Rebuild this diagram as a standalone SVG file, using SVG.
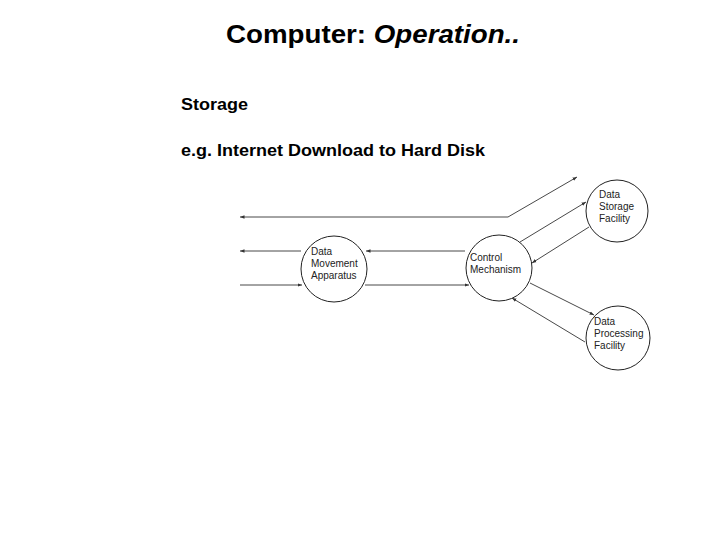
<svg xmlns="http://www.w3.org/2000/svg" width="720" height="540" viewBox="0 0 720 540">
<style>
.t{font-family:"Liberation Sans",Arial,sans-serif;fill:#000;font-weight:bold}
.n{font-family:"Liberation Sans",Arial,sans-serif;font-size:10px;fill:#222}
circle{fill:#fff;stroke:#222;stroke-width:1}
line,polyline{stroke:#333;stroke-width:0.9;fill:none}
</style>
<defs><marker id="a" viewBox="0 0 10 10" refX="10" refY="5" markerWidth="5" markerHeight="5" orient="auto"><path d="M0,1L10,5L0,9z" fill="#333"/></marker></defs>
<rect width="720" height="540" fill="#fff"/>
<text class="t" x="226" y="43" font-size="26" textLength="294" lengthAdjust="spacingAndGlyphs">Computer: <tspan font-style="italic">Operation..</tspan></text>
<text class="t" x="181" y="110" font-size="17" textLength="67" lengthAdjust="spacingAndGlyphs">Storage</text>
<text class="t" x="181" y="156" font-size="17" textLength="304" lengthAdjust="spacingAndGlyphs">e.g. Internet Download to Hard Disk</text>
<g id="connectors">
<line x1="508" y1="217" x2="240" y2="217" marker-end="url(#a)"/>
<line x1="508" y1="217" x2="577" y2="177" marker-end="url(#a)"/>
<line x1="465" y1="251" x2="366" y2="251" marker-end="url(#a)"/>
<line x1="301" y1="251" x2="240" y2="251" marker-end="url(#a)"/>
<line x1="240" y1="285" x2="302" y2="285" marker-end="url(#a)"/>
<line x1="365" y1="285" x2="469" y2="285" marker-end="url(#a)"/>
<line x1="520" y1="242" x2="586" y2="202" marker-end="url(#a)"/>
<line x1="589" y1="227" x2="532" y2="263" marker-end="url(#a)"/>
<line x1="530" y1="283" x2="594" y2="315" marker-end="url(#a)"/>
<line x1="585" y1="342" x2="512" y2="298" marker-end="url(#a)"/>
</g>
<g id="dma"><circle cx="334" cy="269" r="33"/><text class="n" x="311" y="255">Data</text><text class="n" x="311" y="267">Movement</text><text class="n" x="311" y="279">Apparatus</text></g>
<g id="control"><circle cx="499" cy="268" r="33"/><text class="n" x="470" y="261">Control</text><text class="n" x="470" y="273">Mechanism</text></g>
<g id="storage"><circle cx="617" cy="211" r="31"/><text class="n" x="599" y="198">Data</text><text class="n" x="599" y="210">Storage</text><text class="n" x="599" y="222">Facility</text></g>
<g id="processing"><circle cx="618" cy="338" r="32"/><text class="n" x="594" y="325">Data</text><text class="n" x="594" y="337">Processing</text><text class="n" x="594" y="349">Facility</text></g>
</svg>
